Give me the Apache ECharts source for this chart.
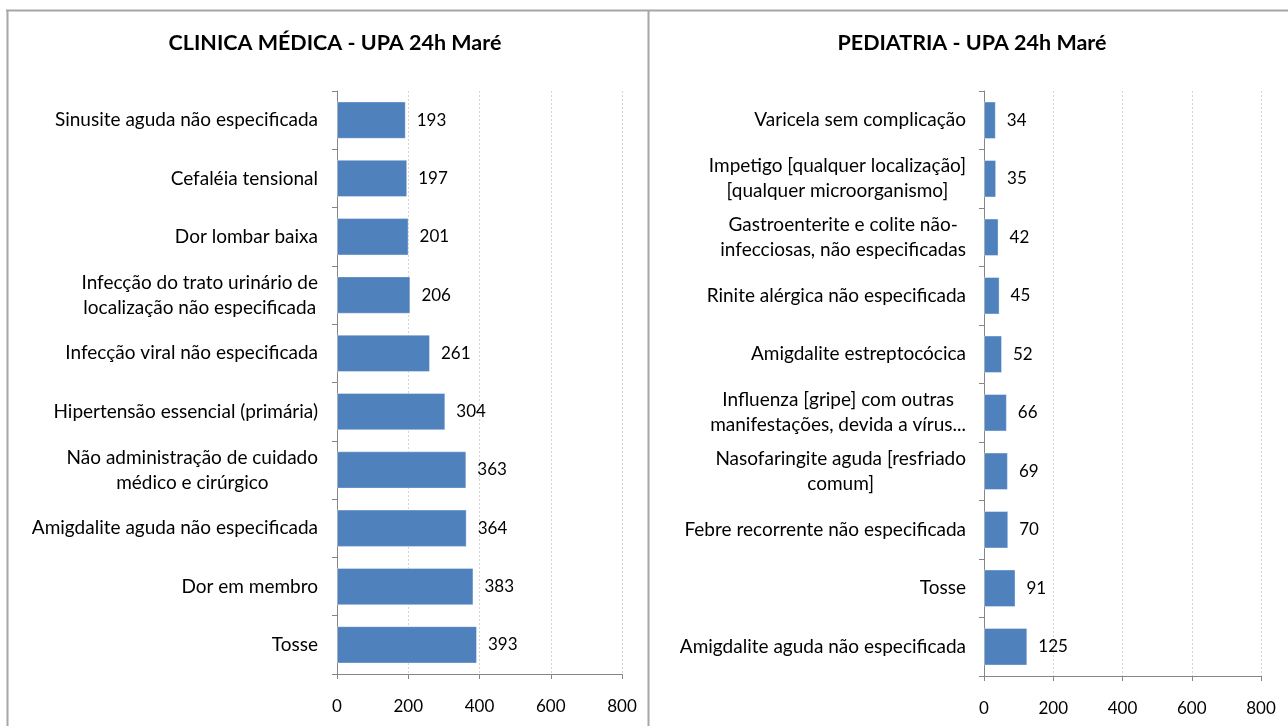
<!DOCTYPE html>
<html>
<head>
<meta charset="utf-8">
<script src="https://cdn.jsdelivr.net/npm/echarts@6/dist/echarts.min.js"></script>
<style>
  html, body { margin: 0; padding: 0; background: #fff; }
  #chart { width: 1288px; height: 726px; }
</style>
</head>
<body>
<div id="chart"></div>
<script>
// dados (de cima para baixo)
const clinicaCategorias = [
  'Sinusite aguda não especificada',
  'Cefaléia tensional',
  'Dor lombar baixa',
  'Infecção do trato urinário de\nlocalização não especificada',
  'Infecção viral não especificada',
  'Hipertensão essencial (primária)',
  'Não administração de cuidado\nmédico e cirúrgico',
  'Amigdalite aguda não especificada',
  'Dor em membro',
  'Tosse'
]
const clinicaValores = [193, 197, 201, 206, 261, 304, 363, 364, 383, 393]

const pediatriaCategorias = [
  'Varicela sem complicação',
  'Impetigo [qualquer localização]\n[qualquer microorganismo]',
  'Gastroenterite e colite não-\ninfecciosas, não especificadas',
  'Rinite alérgica não especificada',
  'Amigdalite estreptocócica',
  'Influenza [gripe] com outras\nmanifestações, devida a vírus...',
  'Nasofaringite aguda [resfriado\ncomum]',
  'Febre recorrente não especificada',
  'Tosse',
  'Amigdalite aguda não especificada'
]
const pediatriaValores = [34, 35, 42, 45, 52, 66, 69, 70, 91, 125]

const eixoMin = 0
const eixoMax = 800
const eixoIntervalo = 200

const fonte = 'Lato, "Noto Sans", sans-serif'
const corBarra = '#4f81bd'
const corEixo = '#868686'

// 1. pega o dom e inicia o gráfico
const myChart = echarts.init(document.getElementById('chart'))

// cada linha do rótulo centralizada dentro do bloco
const formatarRotulo = (v) => v.split('\n').map(s => '{c|' + s + '}').join('\n')

const eixoValor = (gridIndex) => ({
  type: 'value',
  gridIndex,
  min: eixoMin,
  max: eixoMax,
  interval: eixoIntervalo,
  axisLine: {show: true, lineStyle: {color: corEixo, width: 1}},
  axisTick: {show: true, length: 5, lineStyle: {color: corEixo}},
  axisLabel: {color: '#000', fontSize: 17, fontFamily: fonte, margin: 24},
  splitLine: {show: true, lineStyle: {color: '#d4d4d4', type: [2, 2]}}
})

const eixoCategoria = (gridIndex, data, margem) => ({
  type: 'category',
  gridIndex,
  data,
  inverse: true,
  axisLine: {show: true, lineStyle: {color: corEixo, width: 1}},
  axisTick: {show: true, length: 5, alignWithLabel: false, lineStyle: {color: corEixo}},
  axisLabel: {
    margin: margem,
    interval: 0,
    formatter: formatarRotulo,
    rich: {
      c: {align: 'center', fontSize: 19, fontFamily: fonte, color: '#000', lineHeight: 25}
    }
  },
  splitLine: {show: false}
})

const serieBarra = (idx, data) => ({
  type: 'bar',
  xAxisIndex: idx,
  yAxisIndex: idx,
  data,
  barWidth: '64%',
  itemStyle: {color: corBarra, borderColor: 'rgba(255,255,255,0.35)', borderWidth: 1},
  label: {
    show: true,
    position: 'right',
    distance: 11,
    color: '#000',
    fontSize: 17,
    fontFamily: fonte
  }
})

// 2. opções
const option = {
  animation: false,
  backgroundColor: '#fff',
  title: [
    {
      text: 'CLINICA MÉDICA - UPA 24h Maré',
      left: 330,
      top: 27,
      textAlign: 'center',
      textStyle: {fontSize: 21.5, fontWeight: 'bold', fontFamily: fonte, color: '#000'}
    },
    {
      text: 'PEDIATRIA - UPA 24h Maré',
      left: 967,
      top: 27,
      textAlign: 'center',
      textStyle: {fontSize: 21.5, fontWeight: 'bold', fontFamily: fonte, color: '#000'}
    }
  ],
  grid: [
    {left: 337, top: 91, width: 285, height: 583},
    {left: 984, top: 91, width: 277, height: 585}
  ],
  xAxis: [eixoValor(0), eixoValor(1)],
  yAxis: [
    eixoCategoria(0, clinicaCategorias, 19),
    eixoCategoria(1, pediatriaCategorias, 18)
  ],
  series: [
    serieBarra(0, clinicaValores),
    serieBarra(1, pediatriaValores)
  ],
  // moldura dos dois quadros
  graphic: [
    {type: 'line', shape: {x1: 6, y1: 10.5, x2: 1288, y2: 10.5}, style: {stroke: '#a6a6a6', lineWidth: 2}},
    {type: 'line', shape: {x1: 7.5, y1: 10, x2: 7.5, y2: 726}, style: {stroke: '#a6a6a6', lineWidth: 2}},
    {type: 'line', shape: {x1: 648.5, y1: 10, x2: 648.5, y2: 726}, style: {stroke: '#a6a6a6', lineWidth: 2}}
  ]
}

// 3. renderiza
option && myChart.setOption(option)
</script>
</body>
</html>
